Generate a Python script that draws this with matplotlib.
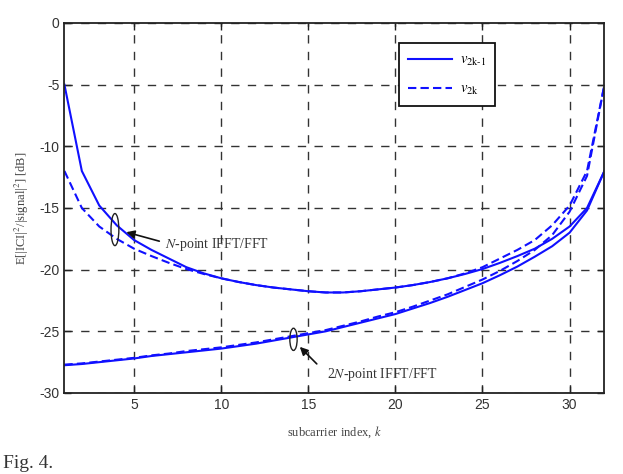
import matplotlib
matplotlib.use("Agg")
import matplotlib.pyplot as plt
from matplotlib.patches import Ellipse

plt.rcParams['mathtext.fontset'] = 'stix'
plt.rcParams['axes.unicode_minus'] = False

k = list(range(1, 33))

n_odd = [-5.0, -12.0, -14.8, -16.4, -17.6, -18.4, -19.1, -19.8, -20.3, -20.7,
         -21.0, -21.25, -21.45, -21.6, -21.75, -21.85, -21.85, -21.75, -21.6, -21.45,
         -21.25, -21.0, -20.7, -20.35, -19.95, -19.45, -18.9, -18.3, -17.5, -16.5,
         -15.0, -12.0]
n_even = [-12.0, -15.0, -16.5, -17.5, -18.3, -18.9, -19.45, -19.95, -20.35, -20.7,
          -21.0, -21.25, -21.45, -21.6, -21.75, -21.85, -21.85, -21.75, -21.6, -21.45,
          -21.25, -21.0, -20.7, -20.3, -19.8, -19.1, -18.4, -17.6, -16.4, -14.8,
          -12.0, -5.0]
n2_odd = [-27.75, -27.65, -27.5, -27.35, -27.2, -27.0, -26.85, -26.7, -26.55, -26.4,
          -26.2, -26.0, -25.75, -25.5, -25.25, -25.0, -24.65, -24.3, -23.95, -23.6,
          -23.15, -22.7, -22.2, -21.65, -21.1, -20.45, -19.75, -18.95, -18.1, -17.0,
          -15.2, -12.0]
n2_even = [-27.7, -27.6, -27.45, -27.3, -27.15, -26.95, -26.8, -26.6, -26.45, -26.3,
           -26.1, -25.9, -25.65, -25.4, -25.15, -24.9, -24.55, -24.2, -23.8, -23.45,
           -23.0, -22.5, -22.0, -21.4, -20.8, -20.1, -19.3, -18.4, -17.2, -15.3,
           -12.4, -5.0]

xticks = [5, 10, 15, 20, 25, 30]
yticks = [0, -5, -10, -15, -20, -25, -30]

fig = plt.figure(figsize=(6.23, 4.74), dpi=100)
ax = fig.add_axes([0.1034, 0.1709, 0.8668, 0.7806])

blue = '#1010ff'
l1, = ax.plot(k, n_odd, color=blue, lw=1.5, ls='-',
              label=r'$v_{\mathrm{2k}\text{-}\mathrm{1}}$')
l2, = ax.plot(k, n_even, color=blue, lw=1.5, ls=(0, (4, 2)), label=r'$v_{\mathrm{2k}}$')
ax.plot(k, n2_odd, color=blue, lw=1.5, ls='-')
ax.plot(k, n2_even, color=blue, lw=1.5, ls=(0, (4, 2)))

ax.set_xlim(1, 32)
ax.set_ylim(-30, 0)
ax.set_xticks(xticks)
ax.set_yticks(yticks)
ax.grid(True, color='#333333', ls=(0, (6, 6)), lw=1.0)
for s in ax.spines.values():
    s.set_linewidth(1.3)
    s.set_color('#222222')
ax.tick_params(direction='in', top=True, right=True, labelsize=10, length=5,
               width=1.0, colors='#222222')
for lab in ax.get_xticklabels() + ax.get_yticklabels():
    lab.set_family('Liberation Sans')
    lab.set_color('#333333')

ax.set_xlabel(r'subcarrier index, $k$', family='Liberation Serif', fontsize=9, color='#444444', labelpad=9)
ax.set_ylabel(r'E[|ICI|$^2$/|signal|$^2$] [dB]', family='Liberation Serif', fontsize=9, color='#444444', labelpad=6)

leg = ax.legend(handles=[l1, l2], loc='upper left', bbox_to_anchor=(0.62, 0.946),
                borderaxespad=0, fancybox=False, edgecolor='#111111', framealpha=1,
                fontsize=10.5, handlelength=3.0, handletextpad=0.6,
                borderpad=0.6, labelspacing=0.9)
leg.get_frame().set_linewidth(1.3)

# annotations
ax.add_patch(Ellipse((3.9, -16.75), 0.45, 2.6, fill=False, ec='#222222', lw=1.0, zorder=5))
ax.annotate('', xy=(4.4, -16.9), xytext=(6.6, -17.75),
            arrowprops=dict(arrowstyle='-|>', color='#111111', lw=1.2, mutation_scale=12))
ax.text(6.75, -17.95, r'$N$-point IFFT/FFT', family='Liberation Serif', fontsize=10,
        color='#333333', va='center', ha='left')

ax.add_patch(Ellipse((14.15, -25.65), 0.42, 1.8, fill=False, ec='#222222', lw=1.0, zorder=5))
ax.annotate('', xy=(14.4, -26.1), xytext=(15.6, -27.8),
            arrowprops=dict(arrowstyle='-|>', color='#111111', lw=1.2, mutation_scale=12))
ax.text(16.1, -28.5, r'2$N$-point IFFT/FFT', family='Liberation Serif', fontsize=10,
        color='#333333', va='center', ha='left')

fig.text(0.005, 0.004, 'Fig. 4.', family='Liberation Serif', fontsize=14,
         color='#333333', va='bottom', ha='left')

fig.savefig('out.png', dpi=100)
